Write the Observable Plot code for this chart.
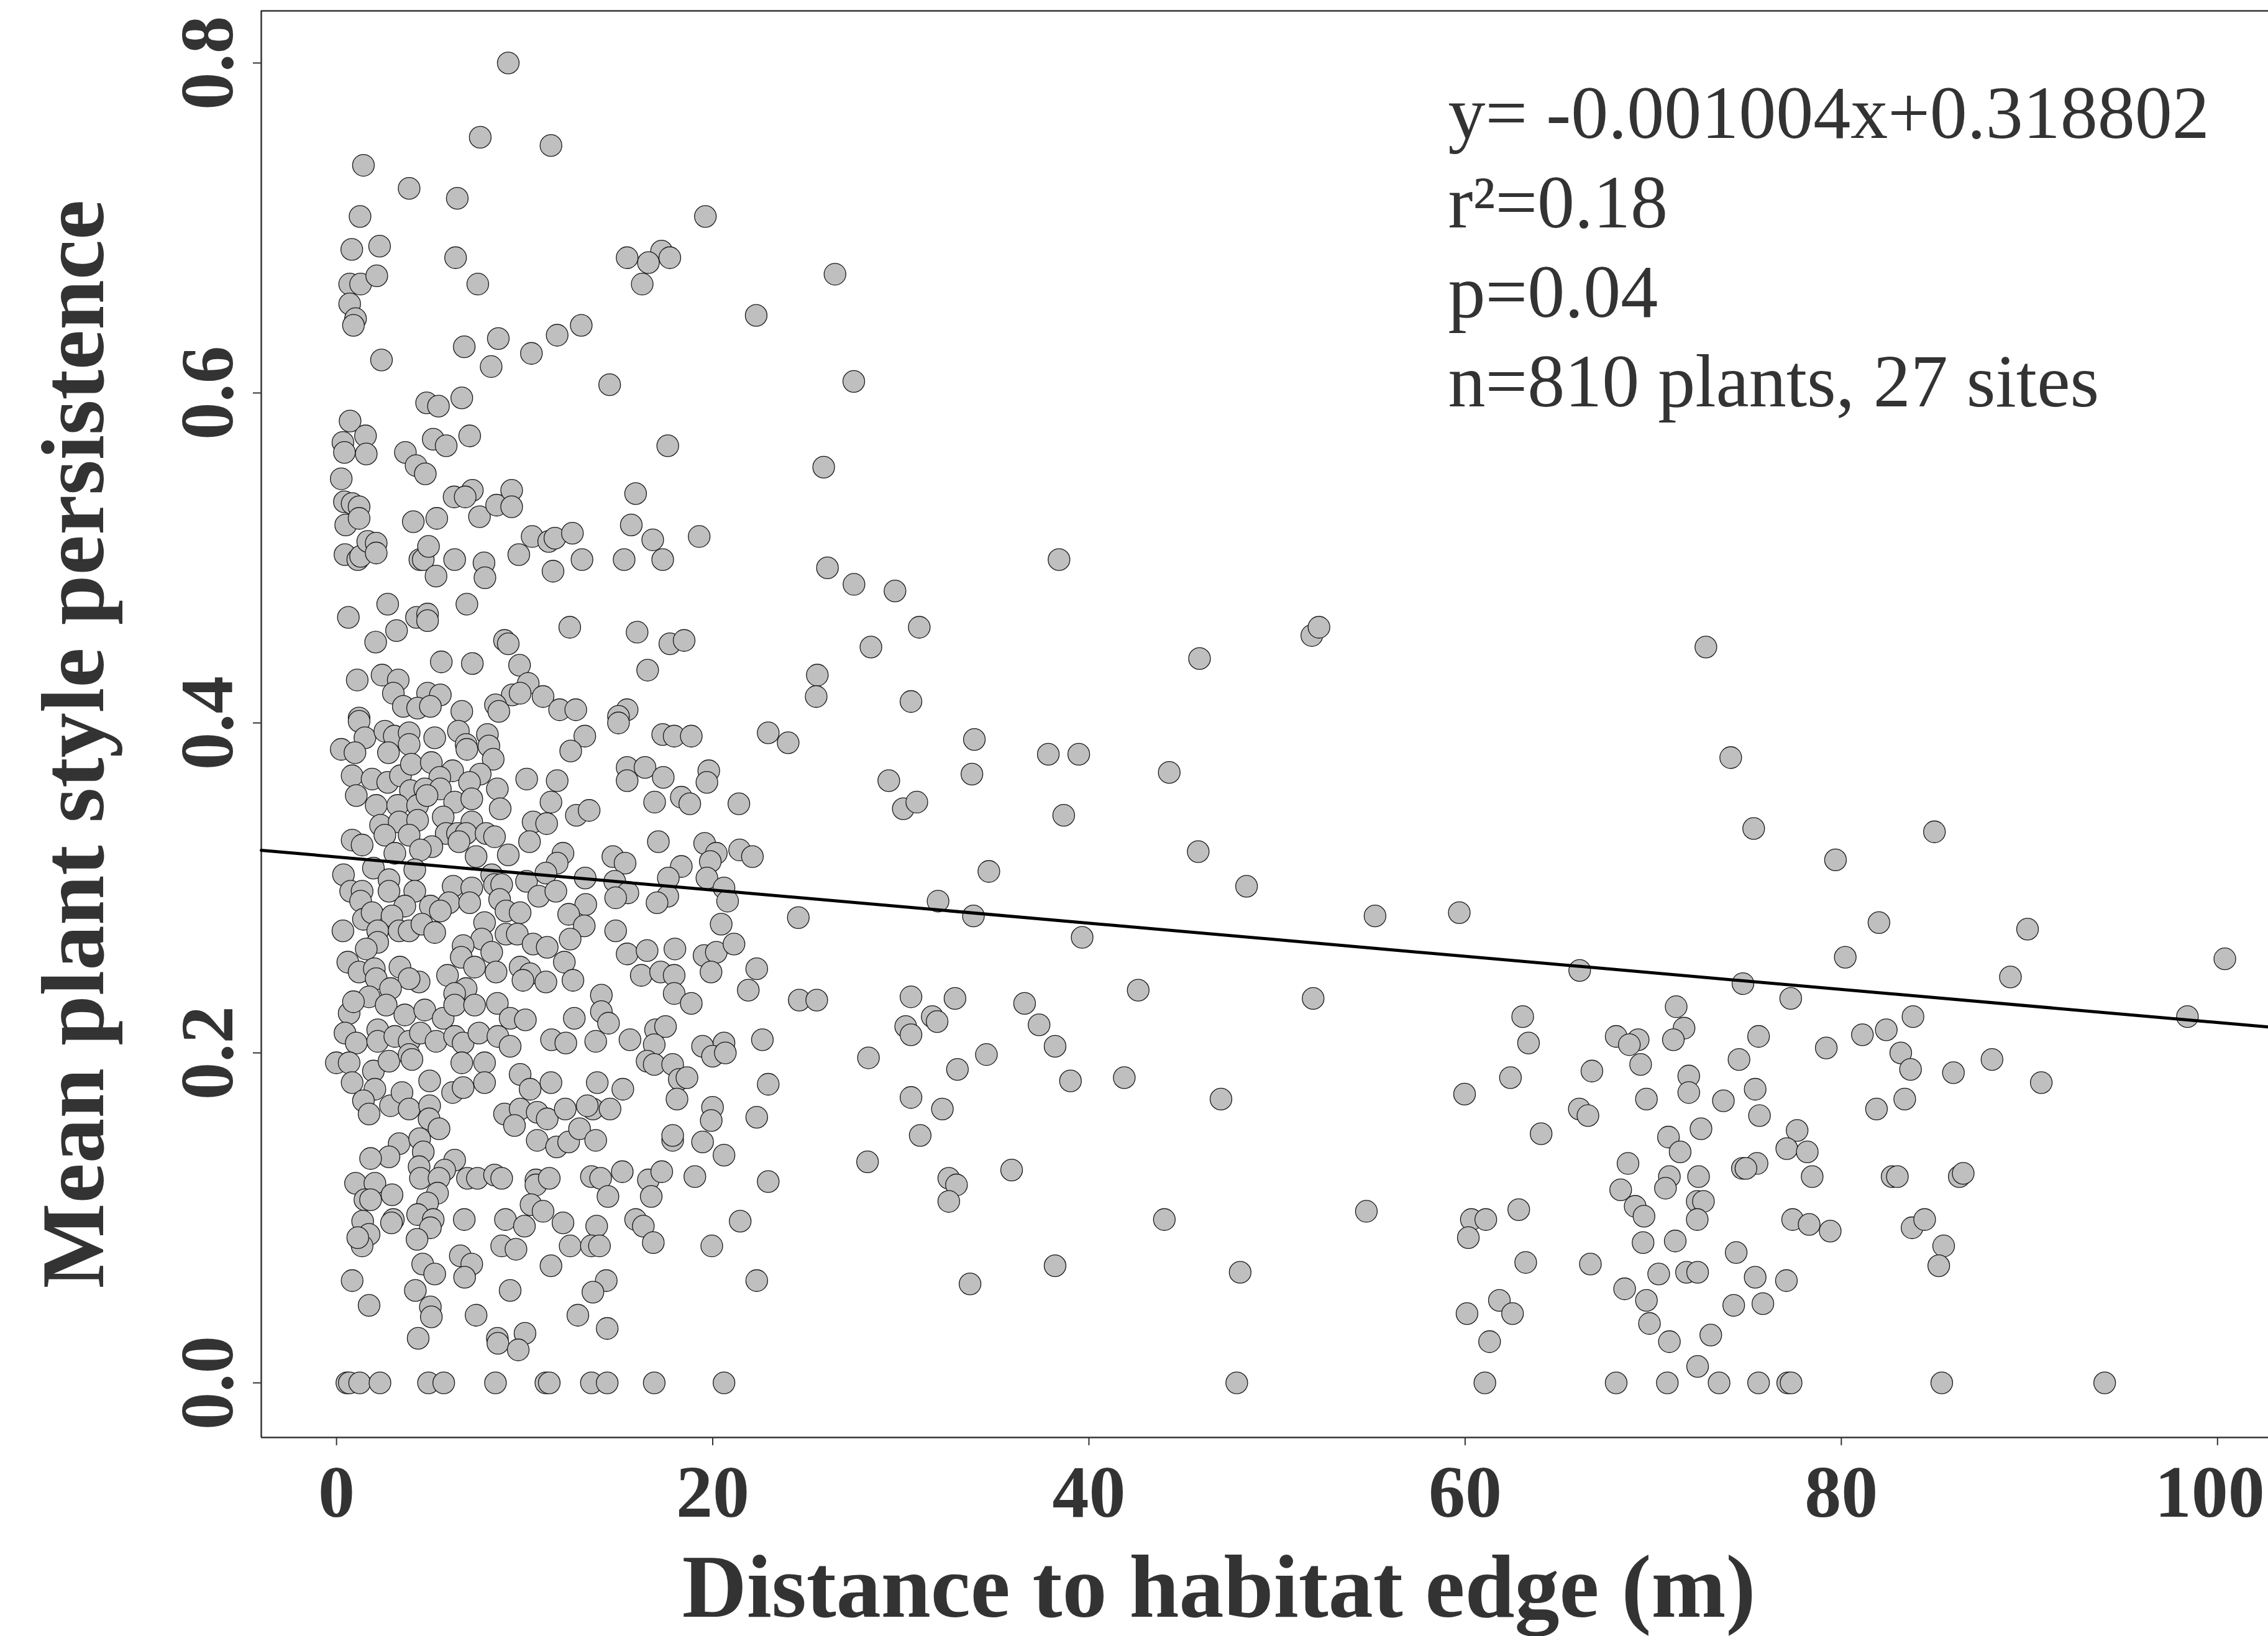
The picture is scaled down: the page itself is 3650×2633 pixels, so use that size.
<!DOCTYPE html>
<html><head><meta charset="utf-8">
<script src="https://cdn.jsdelivr.net/npm/d3@7"></script>
<script src="https://cdn.jsdelivr.net/npm/@observablehq/plot@0.6"></script>
<style>html,body{margin:0;padding:0;background:#fff;} svg{display:block;}</style>
</head><body><div id="chart"></div>
<script>
// [distance to habitat edge (m), mean plant style persistence]
const plantsHigh = [[9.13,0.800],[7.64,0.755],[11.40,0.750],[1.43,0.738],[3.86,0.724],[6.42,0.718],[1.25,0.707],[19.61,0.707],[0.81,0.687],[2.29,0.689],[6.33,0.682],[15.45,0.682],[17.28,0.686],[16.58,0.679],[17.72,0.682],[16.25,0.666],[7.51,0.666],[0.70,0.666],[1.28,0.666],[2.14,0.671],[0.70,0.654],[1.01,0.645],[0.90,0.641],[22.31,0.647],[13.01,0.641],[11.73,0.635],[8.60,0.633],[6.79,0.628],[10.36,0.624],[8.22,0.616],[2.39,0.620],[14.52,0.605],[26.5,0.672],[27.5,0.607],[25.9,0.555]];
const plantsUpper = [[4.79,0.594],[5.42,0.592],[6.66,0.597],[0.72,0.583],[1.54,0.574],[0.34,0.570],[0.42,0.564],[1.58,0.563],[5.14,0.572],[5.83,0.568],[7.08,0.574],[3.66,0.564],[4.23,0.556],[4.72,0.551],[17.61,0.568],[0.25,0.548],[0.42,0.534],[0.83,0.533],[1.20,0.531],[0.49,0.520],[1.20,0.524],[4.08,0.522],[5.33,0.524],[6.25,0.537],[7.22,0.541],[6.84,0.537],[7.60,0.525],[8.51,0.532],[9.31,0.541],[9.31,0.531],[15.90,0.539],[15.67,0.520],[16.81,0.511],[19.28,0.513],[10.40,0.513],[11.28,0.510],[11.61,0.512],[12.54,0.515],[9.69,0.502],[11.51,0.492],[13.05,0.499],[15.29,0.499],[17.34,0.499],[0.45,0.502],[1.13,0.499],[1.28,0.501],[1.66,0.510],[2.11,0.509],[2.11,0.503],[4.43,0.499],[4.61,0.499],[4.89,0.507],[6.28,0.499],[5.29,0.489],[7.84,0.497],[7.89,0.488],[2.72,0.472],[0.63,0.464],[4.25,0.464],[4.84,0.466],[4.84,0.462],[3.19,0.456],[2.08,0.449],[6.93,0.472],[12.40,0.458],[8.93,0.450],[9.13,0.448],[15.98,0.455],[17.72,0.448],[18.48,0.450],[5.57,0.437],[7.22,0.436],[9.73,0.435],[16.54,0.432],[1.10,0.426],[2.42,0.429],[3.28,0.426],[3.02,0.418],[4.84,0.418],[5.52,0.417],[10.19,0.424],[9.34,0.417],[9.76,0.418],[10.98,0.416],[3.55,0.410],[4.31,0.409],[4.99,0.410],[6.66,0.407],[8.45,0.411],[8.63,0.407],[11.86,0.408],[12.72,0.408],[15.45,0.408],[14.99,0.404],[1.20,0.403]];
const plantsMiddle = [[1.20,0.401],[1.51,0.391],[0.25,0.384],[0.98,0.382],[2.57,0.395],[3.07,0.392],[3.86,0.394],[3.86,0.387],[5.22,0.391],[6.48,0.395],[6.89,0.387],[6.93,0.384],[8.02,0.393],[8.10,0.386],[2.76,0.382],[8.33,0.378],[13.20,0.392],[12.45,0.383],[14.99,0.400],[17.34,0.393],[17.95,0.392],[18.86,0.392],[22.95,0.394],
[0.83,0.368],[1.89,0.366],[2.72,0.364],[3.40,0.368],[3.98,0.375],[5.04,0.376],[6.17,0.371],[5.49,0.367],[7.64,0.369],[7.07,0.364],[10.11,0.366],[11.73,0.365],[3.93,0.359],[4.69,0.360],[5.52,0.360],[1.05,0.356],[2.11,0.350],[3.25,0.350],[4.31,0.350],[4.81,0.356],[6.28,0.352],[7.19,0.354],[8.55,0.360],[8.70,0.348],[11.40,0.352],[15.45,0.373],[15.45,0.365],[16.40,0.373],[17.37,0.367],[19.79,0.371],[19.69,0.364],[16.91,0.352],[18.33,0.355],[18.78,0.351],[21.39,0.351],
[2.34,0.338],[3.33,0.340],[4.31,0.341],[5.67,0.343],[5.83,0.333],[7.19,0.340],[6.43,0.333],[6.89,0.333],[7.95,0.333],[8.40,0.331],[0.83,0.329],[1.36,0.326],[2.57,0.332],[3.86,0.332],[5.07,0.325],[4.46,0.323],[3.10,0.321],[6.51,0.328],[10.45,0.340],[11.17,0.339],[10.26,0.328],[12.75,0.344],[13.43,0.347],[17.11,0.328],[19.57,0.327],[21.43,0.323],[22.11,0.319],[20.19,0.321],[19.87,0.316],[7.42,0.319],[9.13,0.320],[12.04,0.321],[11.73,0.315],[14.69,0.319],[15.34,0.315],[18.33,0.313],
[0.37,0.308],[1.96,0.312],[2.79,0.305],[4.16,0.311],[0.75,0.298],[1.36,0.298],[2.79,0.298],[4.16,0.298],[6.20,0.301],[7.19,0.300],[8.25,0.308],[8.40,0.302],[8.78,0.302],[10.10,0.304],[11.13,0.309],[10.75,0.295],[11.66,0.298],[13.22,0.306],[14.79,0.304],[15.49,0.297],[14.84,0.294],[17.64,0.306],[17.61,0.295],[17.04,0.291],[19.69,0.306],[20.60,0.300],[20.79,0.292],[1.28,0.292],[3.63,0.289],[4.99,0.289],[5.98,0.291],[7.08,0.291],[8.67,0.293],[13.25,0.290]];
const plantsCentral = [[1.43,0.281],[1.89,0.285],[2.95,0.283],[0.34,0.274],[2.19,0.274],[3.33,0.274],[3.86,0.274],[4.54,0.278],[5.22,0.273],[5.52,0.286],[7.87,0.279],[9.01,0.286],[9.76,0.285],[12.34,0.284],[13.17,0.277],[14.84,0.274],[20.45,0.278],[9.01,0.272],[9.61,0.272],[10.45,0.266],[11.20,0.264],[12.42,0.269],[12.11,0.255],[7.72,0.269],[6.73,0.265],[2.19,0.267],[1.58,0.263],[15.45,0.260],[16.51,0.262],[17.99,0.263],[19.54,0.259],[20.19,0.261],[21.13,0.266],[22.34,0.251],
[0.60,0.255],[1.20,0.249],[2.01,0.251],[3.37,0.252],[2.11,0.245],[4.39,0.243],[3.86,0.245],[6.63,0.258],[7.34,0.252],[8.25,0.261],[8.48,0.249],[5.90,0.247],[9.76,0.252],[10.29,0.248],[11.13,0.243],[9.91,0.244],[12.57,0.244],[16.20,0.247],[17.23,0.249],[17.95,0.247],[19.91,0.249],[21.89,0.238],[17.95,0.236],[18.86,0.230],[14.08,0.235],[6.89,0.239],[6.28,0.236],[2.87,0.239],[1.73,0.234],
[0.67,0.224],[0.90,0.231],[2.64,0.229],[3.63,0.223],[4.69,0.226],[5.67,0.221],[6.28,0.229],[7.34,0.229],[8.55,0.230],[9.23,0.221],[10.04,0.220],[12.64,0.221],[14.08,0.225],[14.46,0.218],[16.96,0.214],[17.49,0.216],[0.45,0.212],[1.05,0.206],[2.19,0.214],[2.19,0.207],[3.10,0.210],[3.86,0.207],[4.46,0.212],[5.29,0.207],[6.28,0.210],[6.73,0.206],[7.57,0.212],[8.58,0.210],[9.23,0.204],[11.43,0.208],[12.19,0.206],[13.78,0.207],[15.60,0.208],[16.89,0.205],[19.46,0.204],[20.60,0.206],[22.64,0.208]];
const plantsLow = [[-0.01,0.194],[0.67,0.194],[0.83,0.182],[1.96,0.189],[2.79,0.195],[3.86,0.199],[4.01,0.196],[2.04,0.178],[1.43,0.171],[1.73,0.163],[2.87,0.168],[3.48,0.176],[3.86,0.166],[4.95,0.183],[4.95,0.168],[4.92,0.160],[5.45,0.154],[6.17,0.176],[6.66,0.194],[6.73,0.179],[7.87,0.194],[7.87,0.182],[9.76,0.187],[10.29,0.178],[11.40,0.182],[8.93,0.163],[9.76,0.166],[9.46,0.156],[10.67,0.164],[11.20,0.160],[12.16,0.166],[13.63,0.166],[14.54,0.166],[13.33,0.168],[13.86,0.182],[15.22,0.178],[10.67,0.147],[11.70,0.143],[12.34,0.146],[12.92,0.154],[13.78,0.147],[16.51,0.195],[16.89,0.193],[17.87,0.193],[18.22,0.184],[18.63,0.185],[18.10,0.172],[19.99,0.167],[19.92,0.159],[19.99,0.198],[20.67,0.200],[22.34,0.161],[22.95,0.181],[17.87,0.147],[17.87,0.150],[19.46,0.146],[20.60,0.138],[3.33,0.145],[2.79,0.137],[1.81,0.136],[4.42,0.148],[4.61,0.140],[4.39,0.131],[4.46,0.124],[6.28,0.135],[5.75,0.129],[5.45,0.124],[5.37,0.115],[1.01,0.121],[2.04,0.121],[2.95,0.114],[1.51,0.111],[1.81,0.111],[4.84,0.109],[6.96,0.124],[7.49,0.124],[8.40,0.126],[8.78,0.124],[10.60,0.123],[10.60,0.120],[11.31,0.124],[13.55,0.125],[14.04,0.124],[15.19,0.128],[14.43,0.113],[16.58,0.123],[17.29,0.128],[16.73,0.113],[19.05,0.125],[22.95,0.122],[10.34,0.108],[10.98,0.104]];
const plantsBottom = [[1.39,0.098],[1.73,0.090],[1.36,0.083],[1.13,0.088],[3.02,0.099],[2.92,0.097],[4.31,0.102],[5.14,0.099],[4.99,0.094],[4.28,0.087],[6.79,0.099],[8.98,0.099],[9.99,0.095],[12.04,0.097],[13.83,0.095],[15.90,0.099],[16.31,0.095],[21.46,0.098],[8.78,0.083],[9.54,0.081],[12.42,0.083],[13.55,0.083],[13.98,0.083],[16.84,0.085],[19.95,0.083],[6.58,0.077],[7.19,0.072],[11.40,0.071],[4.58,0.072],[5.22,0.066],[6.81,0.064],[0.83,0.062],[4.19,0.056],[9.23,0.056],[14.34,0.062],[13.63,0.055],[22.34,0.062],[1.73,0.047],[4.99,0.046],[5.04,0.040],[7.42,0.041],[12.83,0.041],[14.39,0.033],[4.34,0.027],[8.55,0.027],[8.58,0.024],[10.02,0.030],[9.66,0.020],
[0.55,0],[0.68,0],[1.23,0],[2.31,0],[4.89,0],[5.70,0],[8.45,0],[11.13,0],[11.31,0],[13.55,0],[14.39,0],[16.89,0],[20.60,0]];
const plantsMidDistance = [[26.10,0.494],[27.51,0.484],[29.69,0.480],[30.98,0.458],[28.41,0.446],[25.56,0.429],[25.50,0.416],[30.54,0.413],[38.41,0.499],[24.01,0.388],[33.91,0.390],[33.78,0.369],[29.36,0.365],[30.13,0.348],[30.85,0.352],[37.84,0.381],[39.46,0.381],[38.66,0.344],[44.27,0.370],[45.88,0.439],[51.85,0.453],[52.23,0.458],[45.81,0.322],[34.68,0.310],[48.38,0.301],[31.98,0.292],[33.86,0.283],[24.55,0.282],[39.64,0.270],[55.21,0.283],[59.69,0.285],[42.62,0.238],[24.60,0.232],[25.53,0.232],[30.54,0.234],[32.88,0.233],[36.58,0.230],[51.92,0.233],[31.67,0.222],[31.93,0.219],[30.26,0.216],[30.54,0.211],[37.35,0.217],[38.20,0.204],[28.28,0.197],[34.55,0.199],[33.01,0.190],[39.02,0.183],[41.88,0.185],[47.02,0.172],[59.97,0.175],[30.54,0.173],[32.21,0.166],[31.03,0.150],[28.23,0.134],[32.55,0.124],[32.96,0.120],[32.55,0.110],[35.89,0.129],[44.01,0.099],[54.75,0.104],[60.33,0.099],[61.10,0.099],[60.17,0.088],[38.20,0.071],[33.68,0.060],[48.04,0.067],[60.10,0.042],[61.82,0.050],[61.30,0.025],[47.86,0],[61.05,0]];
const plantsFar = [[72.80,0.446],[74.12,0.379],[75.34,0.336],[84.95,0.334],[79.69,0.317],[82.00,0.279],[89.90,0.275],[100.39,0.257],[80.21,0.258],[88.99,0.246],[66.09,0.250],[74.77,0.242],[77.31,0.233],[98.40,0.222],[83.81,0.222],[63.06,0.222],[63.37,0.206],[71.22,0.228],[71.64,0.215],[68.03,0.210],[69.20,0.208],[68.73,0.205],[71.07,0.208],[75.60,0.210],[69.33,0.193],[74.56,0.196],[79.20,0.203],[81.12,0.211],[82.39,0.214],[83.16,0.200],[83.68,0.190],[88.01,0.196],[85.96,0.188],[90.63,0.182],[62.41,0.185],[66.74,0.189],[71.89,0.186],[71.89,0.176],[69.64,0.172],[73.73,0.171],[75.42,0.178],[75.65,0.162],[66.07,0.166],[66.53,0.162],[81.87,0.166],[83.37,0.172],[64.04,0.151],[70.81,0.149],[72.54,0.154],[71.43,0.140],[77.65,0.153],[77.10,0.142],[78.19,0.140],[68.66,0.133],[70.86,0.125],[70.65,0.118],[72.41,0.125],[74.74,0.130],[75.52,0.133],[74.93,0.130],[78.45,0.125],[82.70,0.125],[82.98,0.125],[86.27,0.125],[86.48,0.127],[68.27,0.117],[62.85,0.105],[69.04,0.107],[69.51,0.101],[72.34,0.110],[72.67,0.110],[72.34,0.099],[77.41,0.099],[78.29,0.096],[79.41,0.092],[83.76,0.094],[84.43,0.099],[85.44,0.083],[85.18,0.071],[69.46,0.085],[71.17,0.086],[74.41,0.079],[63.22,0.073],[66.66,0.072],[70.29,0.066],[71.77,0.067],[72.36,0.067],[75.42,0.064],[77.08,0.062],[68.48,0.057],[69.64,0.050],[74.28,0.047],[75.83,0.048],[62.52,0.042],[69.80,0.036],[70.86,0.025],[73.06,0.029],[72.36,0.010],[68.03,0],[70.75,0],[73.50,0],[75.60,0],[77.15,0],[77.33,0],[85.34,0],[94.00,0]];

const xTicks = [0, 20, 40, 60, 80, 100];
const yTicks = [0, 0.2, 0.4, 0.6, 0.8];
const slope = -0.001004;
const intercept = 0.318802;
const annotationLines = ["y= -0.001004x+0.318802", "r\u00b2=0.18", "p=0.04", "n=810 plants, 27 sites"];
const xLabel = "Distance to habitat edge (m)";
const yLabel = "Mean plant style persistence";
const xDomain = [-4.0, 102.7];
const yDomain = [-0.0331, 0.8316];

const points = [].concat(plantsHigh, plantsUpper, plantsMiddle, plantsCentral, plantsLow, plantsBottom, plantsMidDistance, plantsFar)
  .map(([d, p]) => ({distance: d, persistence: p}));
const fitLine = xDomain.map(x => ({x, y: intercept + slope * x}));
const ink = "#333333";
const lastXTick = xTicks[xTicks.length - 1];
const xTickLabelStyle = {frameAnchor: "bottom", dy: 44, lineAnchor: "top", fontSize: 118, fontWeight: "bold", fill: ink, text: d => String(d)};

const chart = Plot.plot({
  width: 3650,
  height: 2633,
  marginLeft: 420,
  marginRight: 0,
  marginTop: 17,
  marginBottom: 320,
  style: {fontFamily: "'Liberation Serif','Times New Roman',Times,serif", background: "#fff", color: ink},
  x: {domain: xDomain},
  y: {domain: yDomain},
  marks: [
    Plot.ruleX([xDomain[0]], {stroke: ink, strokeWidth: 2.5}),
    Plot.ruleY(yDomain, {stroke: ink, strokeWidth: 2.5}),
    Plot.axisX({ticks: xTicks, tickSize: 13, tickFormat: () => "", label: null, color: ink, strokeWidth: 2}),
    Plot.text(xTicks.filter(d => d !== lastXTick), {...xTickLabelStyle, x: d => d, textAnchor: "middle"}),
    Plot.text([lastXTick], {...xTickLabelStyle, x: d => d, textAnchor: "end", dx: 76}),
    Plot.axisY({ticks: yTicks, tickFormat: d3.format(".1f"), tickSize: 13, tickPadding: 34, tickRotate: -90, fontSize: 121, fontWeight: "bold", label: null, color: ink, strokeWidth: 2}),
    Plot.dot(points, {x: "distance", y: "persistence", r: 17.5, fill: "#bfbfbf", stroke: "#1a1a1a", strokeWidth: 1.3}),
    Plot.line(fitLine, {x: "x", y: "y", stroke: "#000", strokeWidth: 5}),
    Plot.text([annotationLines.join("\n")], {frameAnchor: "top-left", dx: 1910, dy: 102, lineAnchor: "top", lineHeight: 1.2, textAnchor: "start", fontSize: 120, fontWeight: "normal", fill: ink}),
    Plot.text([xLabel], {frameAnchor: "bottom", dx: -74, dy: 288, lineAnchor: "bottom", textAnchor: "middle", fontSize: 144, fontWeight: "bold", fill: ink}),
    Plot.text([yLabel], {frameAnchor: "left", rotate: -90, dx: -255, dy: 32, lineAnchor: "bottom", textAnchor: "middle", fontSize: 145, fontWeight: "bold", fill: ink})
  ]
});
document.getElementById("chart").appendChild(chart);
</script>
</body></html>
